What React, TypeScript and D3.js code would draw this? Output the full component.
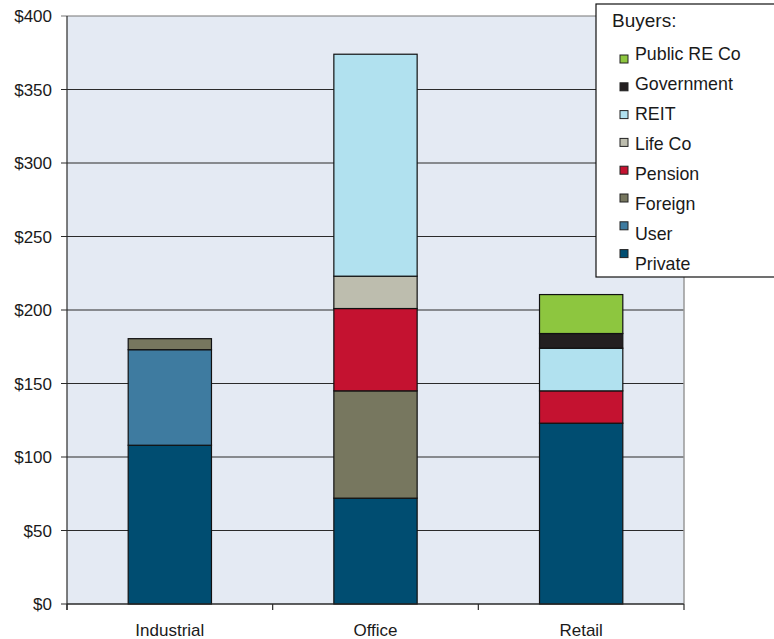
import * as d3 from "d3";

const categories = ["Industrial", "Office", "Retail"];
const buyers = ["Private", "User", "Foreign", "Pension", "Life Co", "REIT", "Government", "Public RE Co"];

const privateVals = [108, 72, 123];
const userVals = [65, 0, 0];
const foreignVals = [7.5, 73, 0];
const pensionVals = [0, 56, 22];
const lifeCoVals = [0, 22, 0];
const reitVals = [0, 151, 29];
const governmentVals = [0, 0, 10];
const publicReCoVals = [0, 0, 26.5];

const yTicks = [0, 50, 100, 150, 200, 250, 300, 350, 400];

const colors: Record<string, string> = {
  Private: "#004d71",
  User: "#3e7ba0",
  Foreign: "#77775f",
  Pension: "#c41230",
  "Life Co": "#bdbdae",
  REIT: "#b1e1ef",
  Government: "#231f20",
  "Public RE Co": "#8dc63f",
};

const series = [privateVals, userVals, foreignVals, pensionVals, lifeCoVals, reitVals, governmentVals, publicReCoVals];

export default function App() {
  const W = 774;
  const H = 639;
  const left = 67;
  const right = 684;
  const top = 16;
  const bottom = 604;
  const font = "Liberation Sans, Arial, sans-serif";

  const rows = categories.map((c, i) => {
    const r: Record<string, number | string> = { cat: c };
    buyers.forEach((b, j) => (r[b] = series[j][i]));
    return r;
  });
  const stacked = d3.stack<Record<string, number | string>>().keys(buyers)(rows as any);

  const x = d3.scaleBand().domain(categories).range([left, right]).padding(0);
  const y = d3.scaleLinear().domain([0, 400]).range([bottom, top]);
  const barW = x.bandwidth() * 0.405;

  const legendOrder = [...buyers].reverse();

  return (
    <svg width={W} height={H} style={{ position: "absolute", left: 0, top: 0 }}>
      <rect x={left} y={top} width={right - left} height={bottom - top} fill="#e4eaf3" />
      {yTicks.map((t) => (
        <g key={t}>
          <line x1={left - 6} x2={right} y1={y(t)} y2={y(t)} stroke={t === 400 ? "#777" : "#2a2a2a"} strokeWidth={1.2} />
          <text x={52} y={y(t)} dy="0.38em" textAnchor="end" fontFamily={font} fontSize={17} fill="#1a1a1a">
            ${t}
          </text>
        </g>
      ))}
      <line x1={right} x2={right} y1={top} y2={bottom} stroke="#999" strokeWidth={1.5} />
      <line x1={left} x2={left} y1={top} y2={bottom + 6} stroke="#2a2a2a" strokeWidth={1.2} />
      {[...categories.map((c) => x(c)!), right].map((v, i) => (
        <line key={i} x1={v} x2={v} y1={bottom} y2={bottom + 6} stroke="#2a2a2a" strokeWidth={1.2} />
      ))}
      {stacked.map((s) =>
        s.map((d, i) =>
          d[1] - d[0] > 0 ? (
            <rect
              key={s.key + i}
              x={x(categories[i])! + (x.bandwidth() - barW) / 2}
              y={y(d[1])}
              width={barW}
              height={y(d[0]) - y(d[1])}
              fill={colors[s.key]}
              stroke="#111"
              strokeWidth={1.2}
            />
          ) : null
        )
      )}
      <line x1={left} x2={right} y1={bottom} y2={bottom} stroke="#2a2a2a" strokeWidth={1.2} />
      {categories.map((c) => (
        <text key={c} x={x(c)! + x.bandwidth() / 2} y={636} textAnchor="middle" fontFamily={font} fontSize={17} fill="#1a1a1a">
          {c}
        </text>
      ))}
      <rect x={596} y={4} width={200} height={273} fill="#fff" stroke="#111" strokeWidth={1.2} />
      <text x={612} y={27} fontFamily={font} fontSize={19} fill="#1a1a1a">
        Buyers:
      </text>
      {legendOrder.map((b, i) => (
        <g key={b}>
          <rect x={620} y={55 + i * 27.8} width={8} height={8} fill={colors[b]} stroke="#222" strokeWidth={1} />
          <text x={635} y={60 + i * 30} fontFamily={font} fontSize={17.8} fill="#1a1a1a">
            {b}
          </text>
        </g>
      ))}
    </svg>
  );
}
